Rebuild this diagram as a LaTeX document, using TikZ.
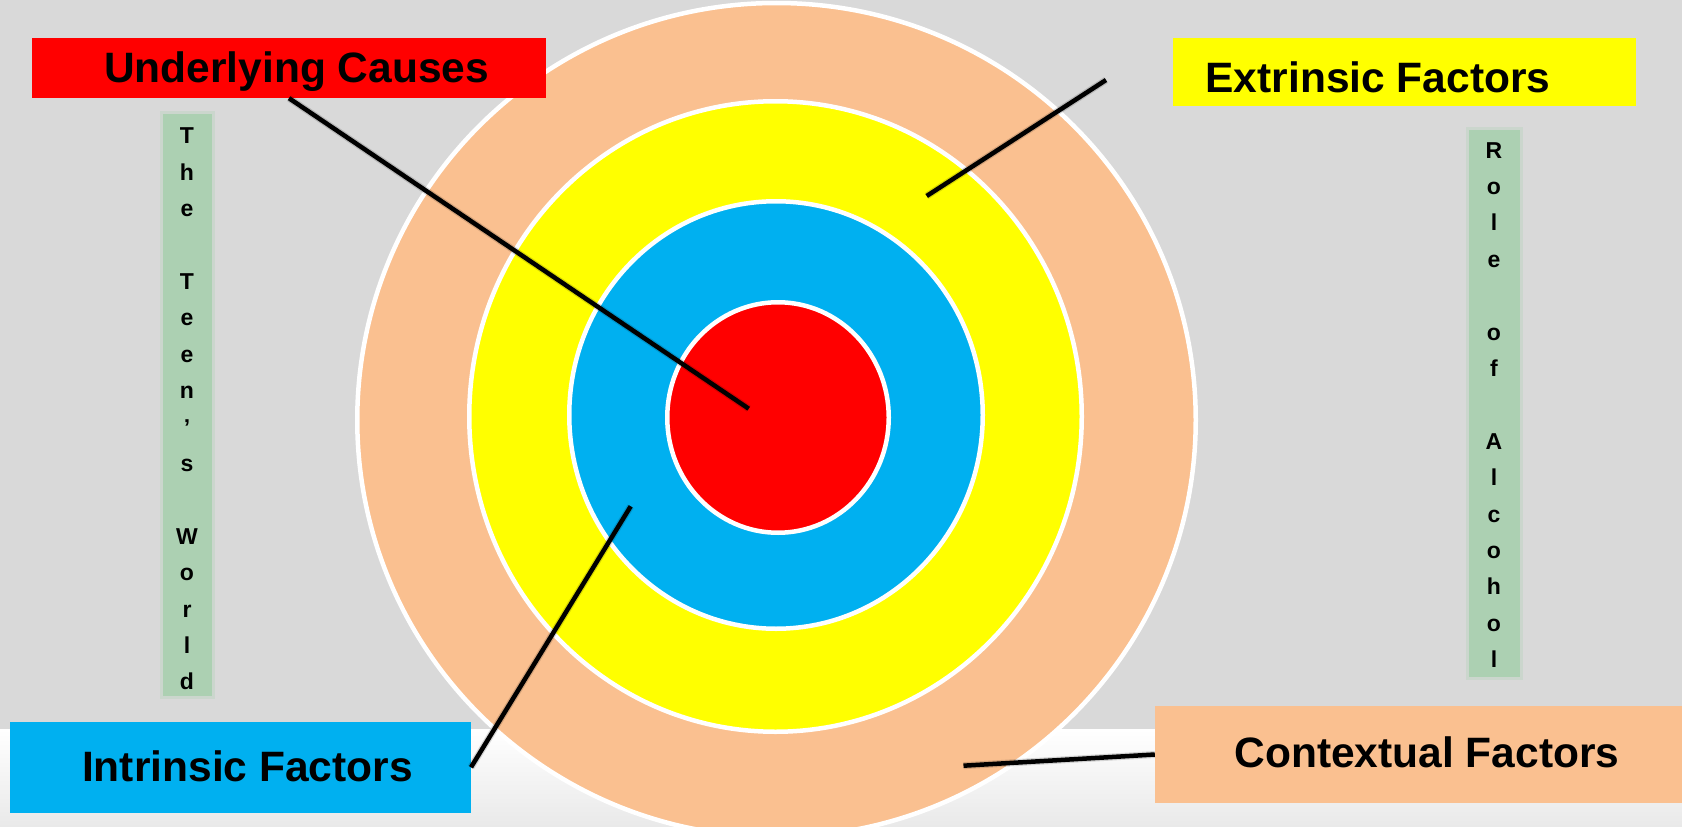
\documentclass[tikz,border=0pt]{standalone}
\usepackage{fontspec}
\setmainfont{Liberation Sans}
\definecolor{bggrey}{HTML}{D9D9D9}
\definecolor{peach}{HTML}{FAC090}
\definecolor{cyanblue}{HTML}{00B0F0}
\definecolor{pureyellow}{HTML}{FFFF00}
\definecolor{purered}{HTML}{FF0000}
\definecolor{stripgreen}{RGB}{172,208,178}
\definecolor{floorgrey}{RGB}{233,233,233}
\begin{document}
\begin{tikzpicture}[x=1pt,y=-1pt,
  ring/.style={draw=white, line width=4.5pt},
  labelbox/.style={rectangle, inner sep=0pt, draw=none},
  labeltext/.style={font=\bfseries\fontsize{42.5}{50}\selectfont, inner sep=0pt, anchor=base, text=black},
  vtext/.style={font=\bfseries\fontsize{23}{36.4}\selectfont, align=center, inner sep=0pt, text=black},
  strip/.style={rectangle, inner sep=0pt, fill=stripgreen},
  stripglow/.style={rectangle, inner sep=0pt, fill=stripgreen, opacity=0.3},
  pointer/.style={line width=4.5pt, black},
  pshadow/.style={line width=7pt, black, opacity=0.15, xshift=2pt, yshift=-2.5pt}
]
\useasboundingbox (0,0) rectangle (1682,827);
\clip (0,0) rectangle (1682,827);
% background
\fill[bggrey] (0,0) rectangle (1682,729);
\shade[top color=white, bottom color=floorgrey] (0,729) rectangle (1682,827);

% vertical strips
\node[stripglow, minimum width=55pt, minimum height=588pt] (lsg) at (187.5,405) {};
\node[strip, minimum width=49pt, minimum height=582pt] (ls) at (187.5,405) {};
\node[stripglow, minimum width=57pt, minimum height=553pt] (rsg) at (1494.5,403.5) {};
\node[strip, minimum width=51pt, minimum height=547pt] (rs) at (1494.5,403.5) {};
\node[vtext] (lst) at (187,409) {T\\h\\e\\[36.4pt]T\\e\\e\\n\\’\\s\\[36.4pt]W\\o\\r\\l\\d};
\node[vtext] (rst) at (1494,405) {R\\o\\l\\e\\[36.4pt]o\\f\\[36.4pt]A\\l\\c\\o\\h\\o\\l};

% target rings
\fill[peach] (776.5,420) ellipse [x radius=419.25, y radius=417];
\draw[ring] (776.5,420) ellipse [x radius=419.25, y radius=417];
\fill[pureyellow] (775.5,416.5) ellipse [x radius=306.25, y radius=315.25];
\draw[ring] (775.5,416.5) ellipse [x radius=306.25, y radius=315.25];
\fill[cyanblue] (776,415) ellipse [x radius=206.75, y radius=213.75];
\draw[ring] (776,415) ellipse [x radius=206.75, y radius=213.75];
\fill[purered] (778,417.5) ellipse [x radius=110.75, y radius=115.25];
\draw[ring] (778,417.5) ellipse [x radius=110.75, y radius=115.25];

% label boxes
\node[labelbox, fill=purered, minimum width=514pt, minimum height=60pt] (uc) at (289,68) {};
\node[labeltext] (uct) at (296.5,82) {Underlying Causes};
\node[labelbox, fill=pureyellow, minimum width=463pt, minimum height=68pt] (ef) at (1404.4,72) {};
\node[labeltext] (eft) at (1378,92.3) {Extrinsic Factors};
\node[labelbox, fill=peach, minimum width=527pt, minimum height=97pt] (cf) at (1418.5,754.5) {};
\node[labeltext] (cft) at (1427,767.7) {Contextual Factors};
\node[labelbox, fill=cyanblue, minimum width=461pt, minimum height=91pt] (if) at (240.3,767.3) {};
\node[labeltext] (ift) at (247.5,781) {Intrinsic Factors};

% pointer ends
\coordinate (ucEnd) at (748.7,408.7);
\coordinate (efA) at (1106,80);
\coordinate (efB) at (926.7,196);
\coordinate (ifEnd) at (630.7,506.3);
\coordinate (cfEnd) at (963.5,765.7);

% pointers
\draw[pshadow] (uc.south) -- (ucEnd);
\draw[pointer] (uc.south) -- (ucEnd);
\draw[pshadow] (efA) -- (efB);
\draw[pointer] (efA) -- (efB);
\draw[pshadow] (if.east) -- (ifEnd);
\draw[pointer] (if.east) -- (ifEnd);
\draw[pshadow] (cfEnd) -- (cf.west);
\draw[pointer] (cfEnd) -- (cf.west);
\end{tikzpicture}
\end{document}
